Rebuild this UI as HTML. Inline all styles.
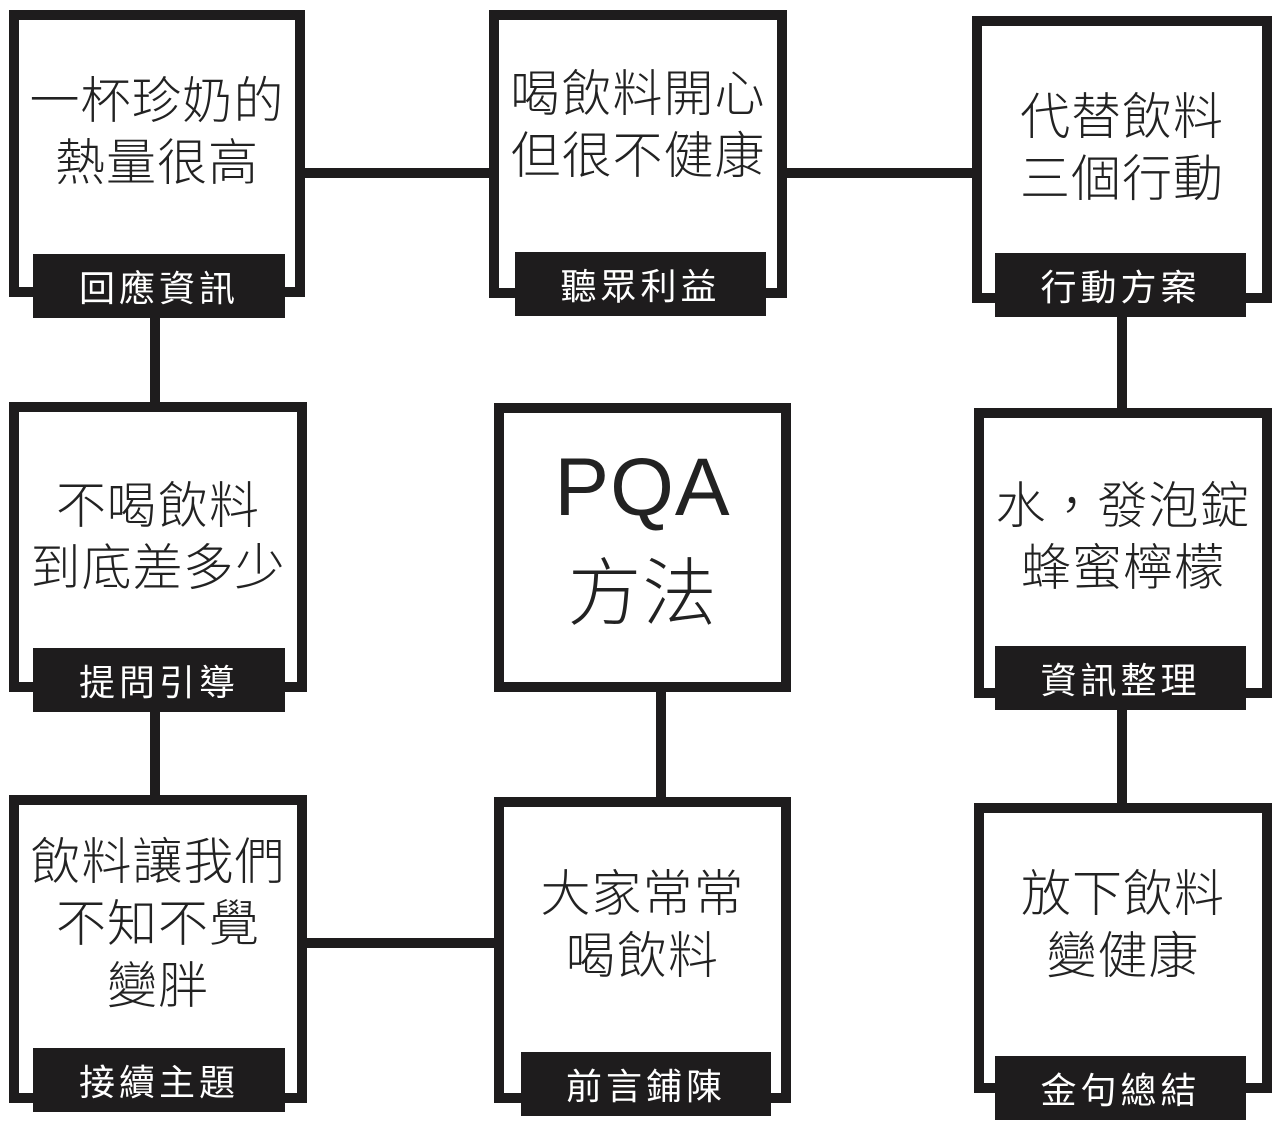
<!DOCTYPE html>
<html><head><meta charset="utf-8"><style>
html,body{margin:0;padding:0;background:#fff;}
body{width:1280px;height:1127px;position:relative;overflow:hidden;font-family:"Liberation Sans","Noto Sans CJK TC",sans-serif;color:#222;}
.b{position:absolute;box-sizing:border-box;border:10px solid #1e1c1d;background:#fff;}
.l{position:absolute;background:#1e1c1d;color:#fff;font-size:36px;line-height:64px;height:64px;text-align:center;letter-spacing:4px;font-family:"Noto Sans CJK TC",sans-serif;}
.ln{position:absolute;background:#1e1c1d;}
.t{position:absolute;text-align:center;font-size:50px;line-height:62px;font-family:"Noto Sans CJK TC",sans-serif;font-weight:300;letter-spacing:1px;white-space:nowrap;}
</style></head><body>
<!-- connectors -->
<div class="ln" style="left:300px;top:168px;width:195px;height:10px"></div>
<div class="ln" style="left:782px;top:168px;width:196px;height:10px"></div>
<div class="ln" style="left:150px;top:315px;width:10px;height:95px"></div>
<div class="ln" style="left:150px;top:708px;width:10px;height:95px"></div>
<div class="ln" style="left:300px;top:938px;width:198px;height:10px"></div>
<div class="ln" style="left:656px;top:688px;width:10px;height:116px"></div>
<div class="ln" style="left:1117px;top:312px;width:10px;height:102px"></div>
<div class="ln" style="left:1117px;top:706px;width:10px;height:104px"></div>

<!-- row1 -->
<div class="b" style="left:9px;top:10px;width:296px;height:287px"></div>
<div class="t" style="left:9px;width:296px;top:66px">一杯珍奶的<br>熱量很高</div>
<div class="l" style="left:33px;top:254px;width:252px">回應資訊</div>

<div class="b" style="left:489px;top:10px;width:298px;height:288px"></div>
<div class="t" style="left:489px;width:298px;top:59px">喝飲料開心<br>但很不健康</div>
<div class="l" style="left:515px;top:252px;width:251px">聽眾利益</div>

<div class="b" style="left:972px;top:16px;width:300px;height:287px"></div>
<div class="t" style="left:972px;width:300px;top:82px">代替飲料<br>三個行動</div>
<div class="l" style="left:995px;top:253px;width:251px">行動方案</div>

<!-- row2 -->
<div class="b" style="left:9px;top:402px;width:298px;height:290px"></div>
<div class="t" style="left:9px;width:298px;top:471px">不喝飲料<br>到底差多少</div>
<div class="l" style="left:33px;top:648px;width:252px">提問引導</div>

<div class="b" style="left:494px;top:403px;width:297px;height:289px"></div>
<div class="t" style="left:494px;width:297px;top:440px;font-size:82px;line-height:96px;font-family:'Liberation Sans','Noto Sans CJK TC',sans-serif;font-weight:400">PQA</div>
<div class="t" style="left:494px;width:297px;top:540px;font-size:74px;line-height:96px;font-weight:300">方法</div>

<div class="b" style="left:974px;top:408px;width:298px;height:290px"></div>
<div class="t" style="left:974px;width:298px;top:471px">水，發泡錠<br>蜂蜜檸檬</div>
<div class="l" style="left:995px;top:646px;width:251px">資訊整理</div>

<!-- row3 -->
<div class="b" style="left:9px;top:795px;width:298px;height:308px"></div>
<div class="t" style="left:9px;width:298px;top:827px">飲料讓我們<br>不知不覺<br>變胖</div>
<div class="l" style="left:33px;top:1048px;width:252px">接續主題</div>

<div class="b" style="left:494px;top:797px;width:297px;height:306px"></div>
<div class="t" style="left:494px;width:297px;top:859px">大家常常<br>喝飲料</div>
<div class="l" style="left:521px;top:1052px;width:250px">前言鋪陳</div>

<div class="b" style="left:974px;top:803px;width:298px;height:290px"></div>
<div class="t" style="left:974px;width:298px;top:859px">放下飲料<br>變健康</div>
<div class="l" style="left:995px;top:1056px;width:251px">金句總結</div>
</body></html>
